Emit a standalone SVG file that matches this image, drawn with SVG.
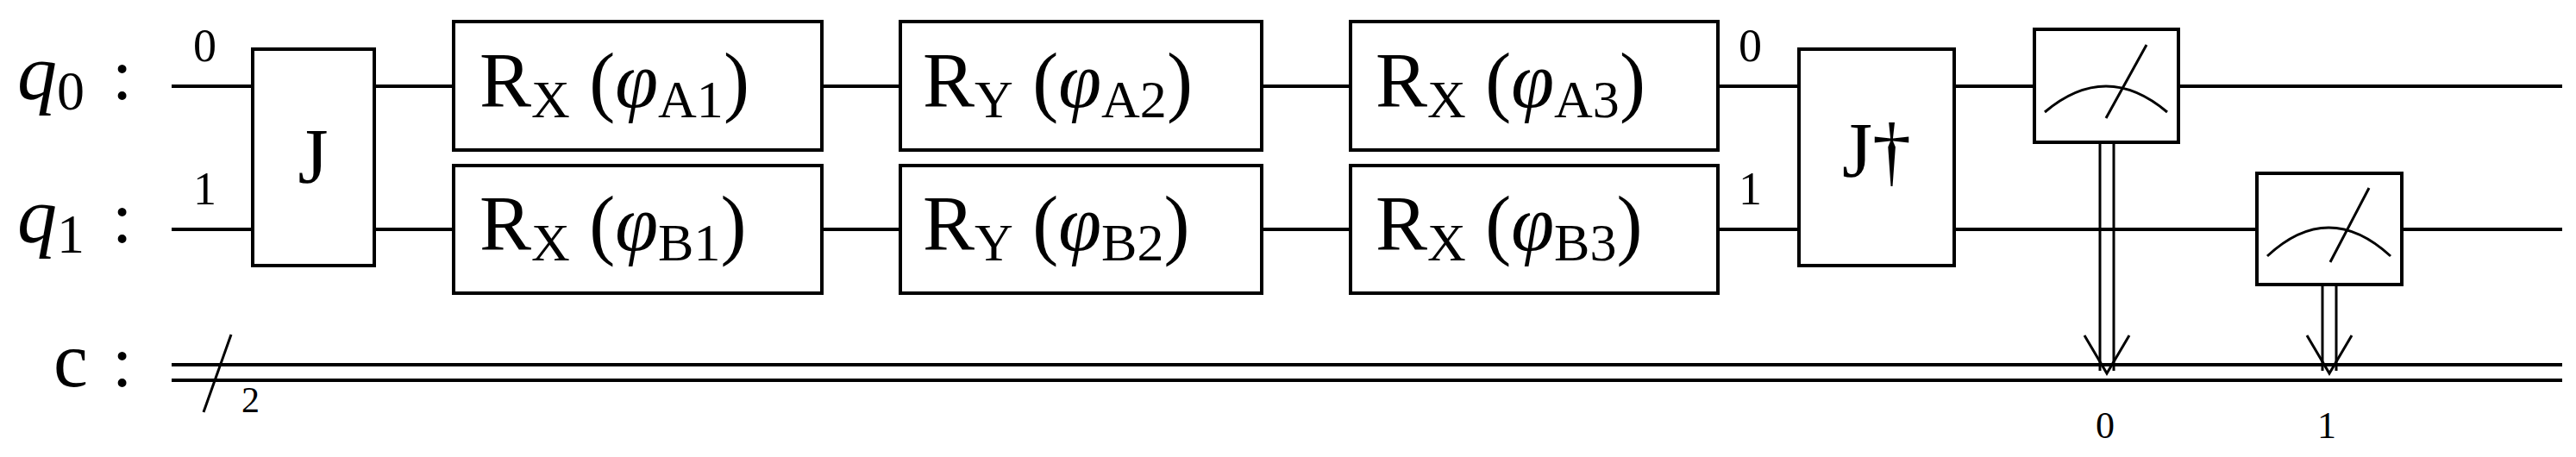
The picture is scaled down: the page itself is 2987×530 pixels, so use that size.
<svg xmlns="http://www.w3.org/2000/svg" width="2987" height="530" viewBox="0 0 2987 530">
<style>
.w{stroke:#000;stroke-width:4;fill:none}
.b{fill:#fff;stroke:#000;stroke-width:4}
.t{font-family:"Liberation Serif",serif;fill:#000}
.g{font-size:90px}
.s{font-size:62px}
.sm{font-size:54px}
</style>
<g id="connectors">
<line class="w" x1="199" y1="100" x2="2971" y2="100"/>
<line class="w" x1="199" y1="266" x2="2971" y2="266"/>
<line class="w" x1="199" y1="423" x2="2971" y2="423"/>
<line class="w" x1="199" y1="441" x2="2971" y2="441"/>
<line class="w" x1="268" y1="388" x2="236" y2="478" style="stroke-width:3"/>
<g style="stroke:#000;stroke-width:3;fill:none">
<line x1="2435" y1="165" x2="2435" y2="430"/><line x1="2451" y1="165" x2="2451" y2="430"/>
<polyline points="2417,389 2443,433 2469,389"/>
<line x1="2693" y1="330" x2="2693" y2="430"/><line x1="2709" y1="330" x2="2709" y2="430"/>
<polyline points="2675,389 2701,433 2727,389"/>
</g>
</g>
<g id="labels" class="t">
<text x="20" y="115" font-size="92" font-style="italic">q<tspan font-style="normal" font-size="64" dy="12">0</tspan></text>
<text x="20" y="281" font-size="92" font-style="italic">q<tspan font-style="normal" font-size="64" dy="12">1</tspan></text>
<text x="130" y="115" font-size="84">:</text>
<text x="130" y="281" font-size="84">:</text>
<text x="62" y="448" font-size="90">c</text>
<text x="130" y="448" font-size="84">:</text>
<text x="280" y="478" font-size="42">2</text>
<text x="224" y="71" class="sm">0</text>
<text x="224" y="237" class="sm">1</text>
<text x="2016" y="71" class="sm">0</text>
<text x="2016" y="237" class="sm">1</text>
<text x="2430" y="508" font-size="44">0</text>
<text x="2687" y="508" font-size="44">1</text>
</g>
<g id="J"><rect class="b" x="293" y="57" width="141" height="251"/><text class="t g" x="363" y="212" text-anchor="middle">J</text></g>
<g id="RxA1"><rect class="b" x="526" y="25" width="427" height="149"/><text class="t g" x="556" y="124">R<tspan class="s" dy="12">X</tspan><tspan dy="-12"> (</tspan><tspan font-style="italic">φ</tspan><tspan class="s" dy="12">A1</tspan><tspan dy="-12">)</tspan></text></g>
<g id="RxB1"><rect class="b" x="526" y="192" width="427" height="148"/><text class="t g" x="556" y="290">R<tspan class="s" dy="12">X</tspan><tspan dy="-12"> (</tspan><tspan font-style="italic">φ</tspan><tspan class="s" dy="12">B1</tspan><tspan dy="-12">)</tspan></text></g>
<g id="RyA2"><rect class="b" x="1044" y="25" width="419" height="149"/><text class="t g" x="1070" y="124">R<tspan class="s" dy="12">Y</tspan><tspan dy="-12"> (</tspan><tspan font-style="italic">φ</tspan><tspan class="s" dy="12">A2</tspan><tspan dy="-12">)</tspan></text></g>
<g id="RyB2"><rect class="b" x="1044" y="192" width="419" height="148"/><text class="t g" x="1070" y="290">R<tspan class="s" dy="12">Y</tspan><tspan dy="-12"> (</tspan><tspan font-style="italic">φ</tspan><tspan class="s" dy="12">B2</tspan><tspan dy="-12">)</tspan></text></g>
<g id="RxA3"><rect class="b" x="1566" y="25" width="426" height="149"/><text class="t g" x="1595" y="124">R<tspan class="s" dy="12">X</tspan><tspan dy="-12"> (</tspan><tspan font-style="italic">φ</tspan><tspan class="s" dy="12">A3</tspan><tspan dy="-12">)</tspan></text></g>
<g id="RxB3"><rect class="b" x="1566" y="192" width="426" height="148"/><text class="t g" x="1595" y="290">R<tspan class="s" dy="12">X</tspan><tspan dy="-12"> (</tspan><tspan font-style="italic">φ</tspan><tspan class="s" dy="12">B3</tspan><tspan dy="-12">)</tspan></text></g>
<g id="Jdag"><rect class="b" x="2086" y="57" width="180" height="251"/><text class="t g" x="2176" y="205" text-anchor="middle">J†</text></g>
<g id="M0"><rect class="b" x="2359" y="34" width="167" height="131"/><path class="w" style="stroke-width:3" d="M2371,130 Q2442,70 2513,130 M2442,137 L2489,52"/></g>
<g id="M1"><rect class="b" x="2617" y="201" width="168" height="129"/><path class="w" style="stroke-width:3" d="M2629,297 Q2700,231 2772,297 M2702,304 L2747,218"/></g>
</svg>
